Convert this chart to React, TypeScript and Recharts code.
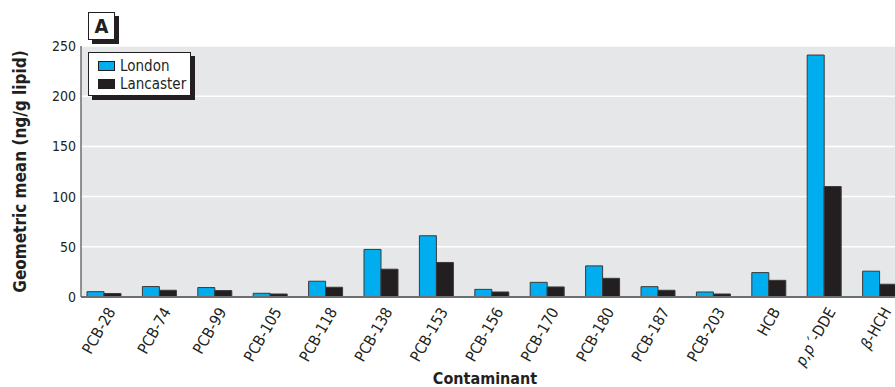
import React from 'react'
import {
  Bar,
  BarChart,
  CartesianGrid,
  Legend,
  XAxis,
  YAxis,
} from 'recharts'

const contaminants = [
  'PCB-28', 'PCB-74', 'PCB-99', 'PCB-105', 'PCB-118', 'PCB-138', 'PCB-153',
  'PCB-156', 'PCB-170', 'PCB-180', 'PCB-187', 'PCB-203', 'HCB', 'p,p´-DDE', 'β-HCH',
]
const london = [5.3, 10.4, 9.4, 3.7, 15.7, 47.4, 61, 7.6, 14.6, 31, 10.3, 5, 24.3, 241, 25.7]
const lancaster = [3.5, 6.7, 6.4, 3, 9.7, 27.7, 34.4, 5, 10, 18.6, 6.7, 3, 16.6, 110, 12.7]
const yTicks = [0, 50, 100, 150, 200, 250]

const data = contaminants.map((name, i) => ({
  name,
  London: london[i],
  Lancaster: lancaster[i],
}))

const FONT = '"Liberation Sans Narrow", "DejaVu Sans Condensed", "Roboto", sans-serif'
const INK = '#231f20'
const BLUE = '#00adef'

function XTick({ x, y, payload }: { x?: number; y?: number; payload?: { value: string } }) {
  const v = payload?.value ?? ''
  let content: React.ReactNode = v
  if (v.startsWith('p,p´')) {
    content = (
      <>
        <tspan fontStyle="italic">p,p´</tspan>
        <tspan>{v.slice(4)}</tspan>
      </>
    )
  } else if (v.startsWith('β')) {
    content = (
      <>
        <tspan fontStyle="italic">β</tspan>
        <tspan>{v.slice(1)}</tspan>
      </>
    )
  }
  return (
    <g transform={`translate(${(x ?? 0) + 8},${(y ?? 0) + 12})`}>
      <text
        transform="rotate(-60)"
        textAnchor="end"
        dominantBaseline="central"
        fontSize={15.5}
        fontFamily={FONT}
        fill={INK}
      >
        {content}
      </text>
    </g>
  )
}

function LegendBox() {
  const items = [
    { label: 'London', color: BLUE },
    { label: 'Lancaster', color: INK },
  ]
  return (
    <div
      style={{
        width: 103,
        height: 44,
        background: '#fff',
        border: `1px solid ${INK}`,
        boxShadow: `4px 4px 0 ${INK}`,
        padding: '4px 0 0 9px',
        boxSizing: 'border-box',
        fontFamily: FONT,
        fontSize: 15,
        color: INK,
      }}
    >
      {items.map((it) => (
        <div key={it.label} style={{ display: 'flex', alignItems: 'center', height: 18 }}>
          <span
            style={{
              display: 'inline-block',
              width: 17,
              height: 10,
              background: it.color,
              border: `1px solid ${INK}`,
              boxSizing: 'border-box',
              marginRight: 5,
            }}
          />
          {it.label}
        </div>
      ))}
    </div>
  )
}

export default function App() {
  return (
    <div style={{ position: 'absolute', left: 0, top: 0, width: 895, height: 387, overflow: 'hidden', background: '#fff' }}>
      <div
        style={{
          position: 'absolute',
          left: 88,
          top: 12,
          width: 27,
          height: 28,
          background: '#fff',
          border: `1px solid ${INK}`,
          boxShadow: `4px 4px 0 ${INK}`,
          boxSizing: 'border-box',
          fontFamily: FONT,
          fontWeight: 'bold',
          fontSize: 20,
          color: INK,
          textAlign: 'center',
          lineHeight: '26px',
          zIndex: 2,
        }}
      >
        A
      </div>
      <BarChart
        width={910}
        height={387}
        data={data}
        margin={{ top: 46, right: 3, bottom: 0, left: 0 }}
        barGap={0}
        barSize={17}
      >
        <CartesianGrid vertical={false} stroke="#ffffff" strokeWidth={1.5} fill="#e6e7e8" />
        <XAxis
          dataKey="name"
          interval={0}
          height={90}
          padding={{ left: -5, right: 0 }}
          tickLine={false}
          tickSize={0}
          tickMargin={0}
          axisLine={{ stroke: '#6d6e71', strokeWidth: 2 }}
          tick={<XTick />}
          label={{
            value: 'Contaminant',
            position: 'insideBottom',
            offset: 3,
            dx: -9,
            style: { fontFamily: FONT, fontWeight: 'bold', fontSize: 16, fill: INK },
          }}
        />
        <YAxis
          width={81}
          domain={[0, 250]}
          ticks={yTicks}
          tickLine={false}
          tickSize={0}
          tickMargin={5}
          axisLine={{ stroke: '#6d6e71', strokeWidth: 1.5 }}
          tick={{ fontFamily: FONT, fontSize: 14, fill: INK }}
          label={{
            value: 'Geometric mean (ng/g lipid)',
            angle: -90,
            position: 'insideLeft',
            offset: 20,
            style: { textAnchor: 'middle', fontFamily: FONT, fontWeight: 'bold', fontSize: 17, fill: INK },
          }}
        />
        <Legend
          layout="vertical"
          align="center"
          verticalAlign="middle"
          wrapperStyle={{ position: 'absolute', left: 88, top: 52, width: 'auto', height: 'auto' }}
          content={() => <LegendBox />}
        />
        <Bar dataKey="London" fill={BLUE} stroke="#3a3a3a" strokeWidth={1} isAnimationActive={false} />
        <Bar dataKey="Lancaster" fill={INK} stroke="#3a3a3a" strokeWidth={1} isAnimationActive={false} />
      </BarChart>
    </div>
  )
}
